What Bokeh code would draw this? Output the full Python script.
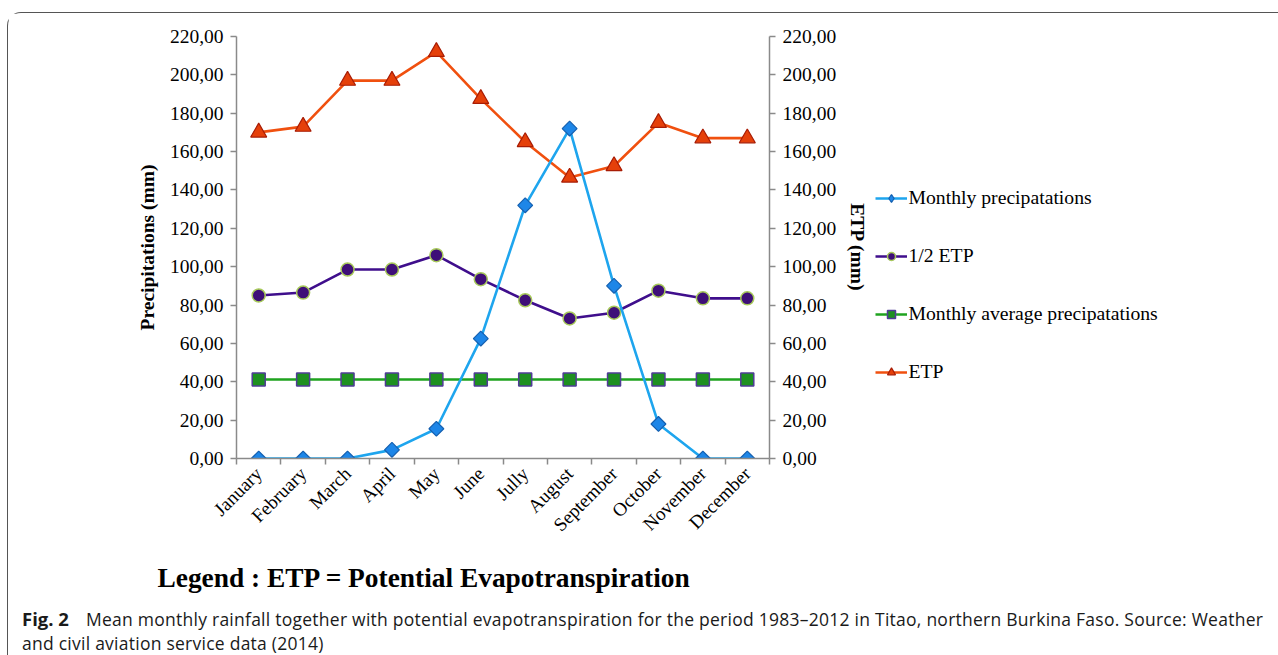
import numpy as np
from bokeh.plotting import figure
from bokeh.layouts import column, row
from bokeh.models import (Range1d, LinearAxis, FixedTicker, Legend, LegendItem, Div)
from bokeh.embed import file_html
from bokeh.resources import INLINE

# ---------------- data ----------------
months = ["January", "February", "March", "April", "May", "June", "Jully",
          "August", "September", "October", "November", "December"]
monthly_precip = [0.0, 0.0, 0.0, 4.5, 15.5, 62.5, 132.0, 172.0, 90.0, 18.0, 0.0, 0.0]
half_etp = [85.0, 86.5, 98.5, 98.5, 106.0, 93.5, 82.5, 73.0, 76.0, 87.5, 83.5, 83.5]
avg_precip = [41.2, 41.2, 41.2, 41.2, 41.2, 41.2, 41.2, 41.2, 41.2, 41.2, 41.2, 41.2]
etp = [170.0, 173.0, 197.0, 197.0, 212.0, 187.5, 165.0, 146.5, 152.5, 175.0, 167.0, 167.0]

y_ticks = [0, 20, 40, 60, 80, 100, 120, 140, 160, 180, 200, 220]
y_tick_labels = ["0,00", "20,00", "40,00", "60,00", "80,00", "100,00", "120,00",
                 "140,00", "160,00", "180,00", "200,00", "220,00"]

series_names = ["Monthly precipatations", "1/2 ETP", "Monthly average precipatations", "ETP"]

legend_note = "Legend : ETP = Potential Evapotranspiration"
caption_bold = "Fig. 2"
caption_line1 = ("Mean monthly rainfall together with potential evapotranspiration for the "
                 "period 1983\u20132012 in Titao, northern Burkina Faso. Source: Weather")
caption_line2 = "and civil aviation service data (2014)"

x = list(np.arange(len(months)) + 0.5)
bounds = list(range(len(months) + 1))
series_values = [monthly_precip, half_etp, avg_precip, etp]

SERIF = "Liberation Serif"
AX = "#8a8a8a"
W = 1262
PH = 535
PL, PT, PB, PR = 228, 23, 90, 100
FW = 535
PW = PL + FW + PR

# series styles
S_PR = dict(line=dict(line_color="#1EA5EE", line_width=2.6),
            mark=dict(marker="square", angle=np.pi / 4, size=10.5, fill_color="#1D86E8",
                      line_color="#1560B0", line_width=1.2))
S_HALF = dict(line=dict(line_color="#3F0E8C", line_width=2.6),
              mark=dict(marker="circle", size=13, fill_color="#3E0F78", line_color="#A7C95A", line_width=1.5))
S_AVG = dict(line=dict(line_color="#1FA31F", line_width=2.6),
             mark=dict(marker="square", size=13, fill_color="#1E9020", line_color="#4F3C96", line_width=1.5))
S_ETP = dict(line=dict(line_color="#F0500F", line_width=2.6),
             mark=dict(marker="triangle", size=16, fill_color="#E5400A", line_color="#A81C05", line_width=1.2))
styles = [S_PR, S_HALF, S_AVG, S_ETP]

p = figure(width=PW, height=PH, output_backend="svg", toolbar_location=None,
           x_range=Range1d(0, len(months)), y_range=Range1d(0, 220),
           min_border_left=PL, min_border_right=PR, min_border_top=PT,
           min_border_bottom=PB, x_axis_location=None, y_axis_location=None)
p.grid.visible = False
p.outline_line_color = None
p.extra_y_ranges = {"etp": Range1d(0, 220)}

xaxis = LinearAxis(ticker=FixedTicker(ticks=x, minor_ticks=bounds),
                   major_label_overrides={float(xi): m for xi, m in zip(x, months)})
xaxis.major_tick_line_color = None
xaxis.minor_tick_in = 0
xaxis.minor_tick_out = 6
xaxis.minor_tick_line_color = AX
xaxis.minor_tick_line_width = 1.5
xaxis.axis_line_color = AX
xaxis.axis_line_width = 1.5
xaxis.major_label_orientation = np.pi / 4
xaxis.major_label_text_font = SERIF
xaxis.major_label_text_font_size = "19px"
xaxis.major_label_text_color = "black"
xaxis.major_label_standoff = 6
p.add_layout(xaxis, "below")

def style_y(ax, standoff):
    ax.major_tick_in = 0
    ax.major_tick_out = 6
    ax.major_tick_line_color = AX
    ax.major_tick_line_width = 1.5
    ax.minor_tick_line_color = None
    ax.axis_line_color = AX
    ax.axis_line_width = 1.5
    ax.major_label_text_font = SERIF
    ax.major_label_text_font_size = "19.5px"
    ax.major_label_text_color = "black"
    ax.major_label_standoff = 7
    ax.axis_label_text_font = SERIF
    ax.axis_label_text_font_style = "bold"
    ax.axis_label_text_font_size = "19.5px"
    ax.axis_label_text_color = "black"
    ax.axis_label_standoff = standoff

ly = LinearAxis(ticker=FixedTicker(ticks=y_ticks),
                major_label_overrides=dict(zip(y_ticks, y_tick_labels)),
                axis_label="Precipitations (mm)")
style_y(ly, 9)
p.add_layout(ly, "left")

ry = LinearAxis(y_range_name="etp", ticker=FixedTicker(ticks=y_ticks),
                major_label_overrides=dict(zip(y_ticks, y_tick_labels)),
                axis_label="ETP (mm)")
style_y(ry, 8)
p.add_layout(ry, "right")

# draw order: ETP, average, 1/2 ETP, precipitations (precipitations on top)
for vals, st in reversed(list(zip(series_values, styles))):
    rng = {"y_range_name": "etp"} if vals is etp else {}
    p.line(x, vals, **rng, **st["line"])
    p.scatter(x, vals, **rng, **st["mark"])

# legend panel to the right: same series, ranges chosen so only the legend shows
lf = figure(width=W - PW, height=PH, output_backend="svg", toolbar_location=None,
            x_range=Range1d(100, 101), y_range=Range1d(0, 220),
            min_border_left=0, min_border_right=0, min_border_top=PT,
            min_border_bottom=PB, x_axis_location=None, y_axis_location=None)
lf.grid.visible = False
lf.outline_line_color = None
items = []
for name, vals, st in zip(series_names, series_values, styles):
    mk = dict(st["mark"])
    if st is S_PR:  # legend swatch drawn as a diamond
        mk.pop("angle")
        mk["marker"] = "diamond"
        mk["size"] = 14
    rl = lf.line(x, vals, **st["line"])
    rm = lf.scatter(x, vals, **mk)
    items.append(LegendItem(label=name, renderers=[rl, rm]))
legend = Legend(items=items, location=(3.5, 75))
legend.glyph_width = 32
legend.glyph_height = 20
legend.label_height = 20
legend.spacing = 35
legend.padding = 0
legend.margin = 0
legend.label_standoff = 2
legend.border_line_color = None
legend.background_fill_alpha = 0
legend.label_text_font = SERIF
legend.label_text_font_size = "19.7px"
legend.label_text_color = "black"
lf.add_layout(legend)

CAPSTYLE = ("position:absolute;font-family:'Open Sans';font-size:17.5px;line-height:24px;"
            "letter-spacing:0.25px;color:#1a1a1a;white-space:nowrap;")
cap_html = (
    '<div style="position:relative;width:%dpx;height:106px;">'
    '<div style="position:absolute;left:144.5px;top:10px;font-family:\'Liberation Serif\';'
    'font-weight:bold;font-size:27.4px;line-height:31px;color:#000;white-space:nowrap;">%s</div>'
    '<div style="%sleft:9px;top:54px;font-weight:bold;font-size:18.5px;letter-spacing:0;">%s</div>'
    '<div style="%sleft:73px;top:54px;">%s</div>'
    '<div style="%sleft:9px;top:78px;">%s</div>'
    '</div>'
) % (W, legend_note, CAPSTYLE, caption_bold, CAPSTYLE, caption_line1, CAPSTYLE, caption_line2)
cap = Div(text=cap_html, width=W, height=106)

layout = column(row(p, lf, spacing=0), cap, spacing=0,
                styles={"margin-left": "7px", "margin-top": "12px",
                        "border-left": "1.5px solid #555555",
                        "border-top": "1.5px solid #555555",
                        "border-top-left-radius": "14px"})

open("out.html", "w").write(file_html(layout, INLINE))
